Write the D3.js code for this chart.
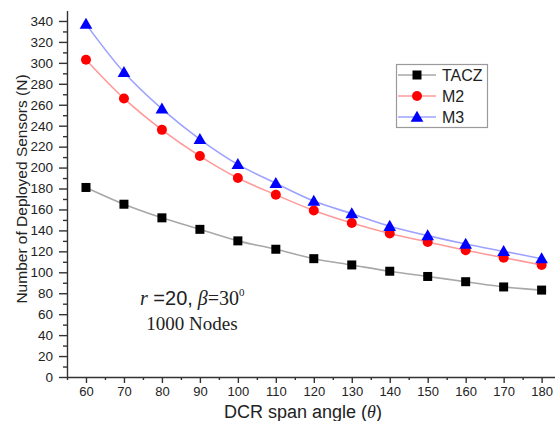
<!DOCTYPE html>
<html>
<head>
<meta charset="utf-8">
<script src="https://cdn.jsdelivr.net/npm/d3@7"></script>
<style>
  html, body { margin: 0; padding: 0; background: #fff; }
  svg { display: block; }
  text { fill: #222; }
  .sans { font-family: Arial, "Liberation Sans", sans-serif; }
  .serif { font-family: "Liberation Serif", "Times New Roman", serif; }
</style>
</head>
<body>
<svg id="chart" width="555" height="421" class="sans"></svg>
<script>
// DCR span angle (degrees)
const angles = [60, 70, 80, 90, 100, 110, 120, 130, 140, 150, 160, 170, 180];
// Number of deployed sensors per method
const tacz = [181, 165, 152, 141, 130, 122, 113, 107, 101, 96, 91, 86, 83];
const m2   = [303, 266, 236, 211, 190, 174, 159, 147, 137, 129, 121, 114, 107];
const m3   = [337, 291, 256, 227, 203, 185, 168, 156, 144, 135, 127, 120, 113];
const seriesNames = ["TACZ", "M2", "M3"];
const xTicks = [60, 70, 80, 90, 100, 110, 120, 130, 140, 150, 160, 170, 180];
const yTicks = d3.range(0, 341, 20);

const svg = d3.select("#chart");
const x = d3.scaleLinear().domain([55, 185]).range([67, 560.6]);
const y = d3.scaleLinear().domain([0, 350]).range([377, 10.5]);

const series = [
  { name: seriesNames[0], values: tacz, line: "#a8a8a8", fill: "#000", shape: "square" },
  { name: seriesNames[1], values: m2,   line: "#ff9a9a", fill: "#ff0000", shape: "circle" },
  { name: seriesNames[2], values: m3,   line: "#9da2ff", fill: "#0000ff", shape: "triangle" }
];

// Axes: minor ticks first, then labelled major ticks
const axisG = svg.append("g");
const xMinor = d3.range(55, 186, 10);
axisG.append("g").attr("transform", "translate(0,377)")
  .call(d3.axisBottom(x).tickValues(xMinor).tickSize(3).tickFormat(""))
  .call(g => g.select(".domain").remove());
axisG.append("g").attr("transform", "translate(0,377)")
  .call(d3.axisBottom(x).tickValues(xTicks).tickSize(6).tickSizeOuter(0).tickPadding(4))
  .call(g => g.selectAll("text").style("font-size", "13px").attr("fill", "#222"));

const yMinor = d3.range(10, 350, 20);
axisG.append("g").attr("transform", "translate(67,0)")
  .call(d3.axisLeft(y).tickValues(yMinor).tickSize(4).tickFormat(""))
  .call(g => g.select(".domain").remove());
axisG.append("g").attr("transform", "translate(67,0)")
  .call(d3.axisLeft(y).tickValues(yTicks).tickSize(8).tickSizeOuter(0).tickPadding(6))
  .call(g => g.selectAll("text").style("font-size", "13.5px").attr("fill", "#222"));

axisG.selectAll("g").attr("font-family", null);
axisG.selectAll(".domain, .tick line").attr("stroke", "#333").attr("stroke-width", 1.4);

// Axis titles
svg.append("text")
  .attr("transform", "translate(27,189) rotate(-90)")
  .attr("text-anchor", "middle")
  .style("font-size", "15.5px")
  .text("Number of Deployed Sensors (N)");

const xt = svg.append("text")
  .attr("x", 303).attr("y", 418)
  .attr("text-anchor", "middle")
  .style("font-size", "18px");
xt.append("tspan").text("DCR span angle (");
xt.append("tspan").attr("class", "serif").style("font-style", "italic").text("θ");
xt.append("tspan").text(")");

// Curves
const line = d3.line()
  .x((d, i) => x(angles[i]))
  .y(d => y(d))
  .curve(d3.curveCatmullRom.alpha(0.5));

series.forEach(s => {
  svg.append("path")
    .datum(s.values)
    .attr("d", line)
    .attr("fill", "none")
    .attr("stroke", s.line)
    .attr("stroke-width", 1.6);
});

function drawMarker(g, shape, fill, cx, cy) {
  if (shape === "square") {
    g.append("rect").attr("x", cx - 4.5).attr("y", cy - 4.5)
      .attr("width", 9).attr("height", 9).attr("fill", fill);
  } else if (shape === "circle") {
    g.append("circle").attr("cx", cx).attr("cy", cy).attr("r", 5).attr("fill", fill);
  } else {
    g.append("path")
      .attr("d", d3.symbol(d3.symbolTriangle, 70)())
      .attr("transform", `translate(${cx},${cy + 1})`)
      .attr("fill", fill);
  }
}

series.forEach(s => {
  const g = svg.append("g");
  s.values.forEach((v, i) => drawMarker(g, s.shape, s.fill, x(angles[i]), y(v)));
});

// Legend
const lg = svg.append("g");
lg.append("rect").attr("x", 396.5).attr("y", 64.5).attr("width", 91).attr("height", 63)
  .attr("fill", "#fff").attr("stroke", "#9a9a9a").attr("stroke-width", 1.2);
series.forEach((s, i) => {
  const ly = 75 + i * 21;
  lg.append("line").attr("x1", 398).attr("x2", 436).attr("y1", ly).attr("y2", ly)
    .attr("stroke", s.line).attr("stroke-width", 1.5);
  drawMarker(lg, s.shape, s.fill, 417, ly);
  lg.append("text").attr("x", 442).attr("y", ly + 6)
    .style("font-size", "16px").text(s.name);
});

// Parameter note
const t1 = svg.append("text").attr("class", "serif")
  .attr("x", 140).attr("y", 305).style("font-size", "20px");
t1.append("tspan").style("font-style", "italic").text("r");
t1.append("tspan").attr("class", "sans").text(" =20,");
t1.append("tspan").style("font-style", "italic").text(" β");
t1.append("tspan").text("=30");
t1.append("tspan").attr("dy", -9).style("font-size", "11px").text("0");
svg.append("text").attr("class", "serif")
  .attr("x", 192).attr("y", 330).attr("text-anchor", "middle")
  .style("font-size", "19px").text("1000 Nodes");
</script>
</body>
</html>
